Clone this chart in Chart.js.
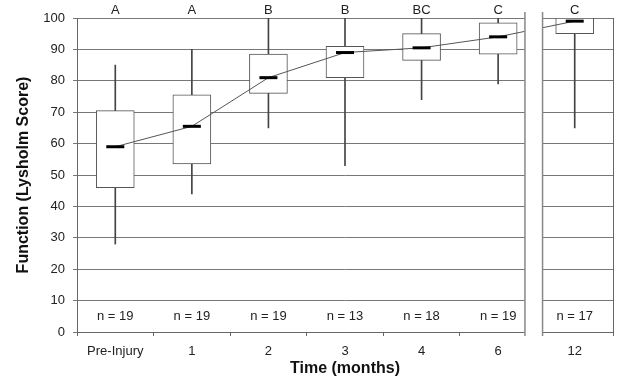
<!DOCTYPE html>
<html>
<head>
<meta charset="utf-8">
<script src="https://cdn.jsdelivr.net/npm/chart.js@4"></script>
<style>
  html, body { margin: 0; padding: 0; background: #fff; }
  #wrap { width: 625px; height: 386px; }
</style>
</head>
<body>
<div id="wrap"><canvas id="myChart" width="625" height="386"></canvas></div>
<script>
// datos
const categories = ['Pre-Injury', '1', '2', '3', '4', '6', '12'];
const whiskerMin = [28, 44, 65, 53, 74, 79, 65];
const whiskerMax = [85, 90, 100, 100, 100, 100, 100];
const boxQ1 = [46, 53.5, 76, 81, 86.5, 88.5, 95];
const boxQ3 = [70.5, 75.5, 88.5, 91, 95, 98.5, 100];
const medians = [59, 65.5, 81, 89, 90.5, 94, 99];
const groupLetters = ['A', 'A', 'B', 'B', 'BC', 'C', 'C'];
const sampleSizes = ['n = 19', 'n = 19', 'n = 19', 'n = 13', 'n = 18', 'n = 19', 'n = 17'];
const yTicks = [0, 10, 20, 30, 40, 50, 60, 70, 80, 90, 100];

const FONT = 'Liberation Sans, Arial, sans-serif';

// textos extra y el corte del eje
const extrasPlugin = {
    id: 'extras',
    afterDraw(chart) {
        const ctx = chart.ctx;
        const x = chart.scales.x;
        const y = chart.scales.y;
        const area = chart.chartArea;
        const catW = x.getPixelForValue(1) - x.getPixelForValue(0);

        ctx.save();
        // borde derecho
        ctx.strokeStyle = '#666';
        ctx.lineWidth = 1;
        ctx.beginPath();
        ctx.moveTo(area.right + 0.5, area.top);
        ctx.lineTo(area.right + 0.5, area.bottom);
        ctx.stroke();

        // letras de grupo y tamanos de muestra
        ctx.fillStyle = '#222';
        ctx.font = '13px ' + FONT;
        ctx.textAlign = 'center';
        ctx.textBaseline = 'middle';
        groupLetters.forEach((t, i) => {
            ctx.fillText(t, x.getPixelForValue(i), area.top - 8);
        });
        sampleSizes.forEach((t, i) => {
            ctx.fillText(t, x.getPixelForValue(i), y.getPixelForValue(5));
        });

        // corte entre 6 y 12 meses
        const bx1 = x.getPixelForValue(5) + 0.35 * catW;
        const bx2 = x.getPixelForValue(6) - 0.42 * catW;
        ctx.fillStyle = '#fff';
        ctx.fillRect(bx1, area.top - 6, bx2 - bx1, area.bottom - area.top + 12);
        ctx.strokeStyle = '#888';
        ctx.lineWidth = 1.5;
        ctx.beginPath();
        ctx.moveTo(bx1, area.top - 6);
        ctx.lineTo(bx1, area.bottom + 4);
        ctx.moveTo(bx2, area.top - 6);
        ctx.lineTo(bx2, area.bottom + 4);
        ctx.stroke();
        ctx.restore();
    }
};

const ctx = document.getElementById('myChart').getContext('2d');
new Chart(ctx, {
    type: 'bar',
    data: {
        labels: categories,
        datasets: [
            {
                type: 'line',
                data: medians,
                showLine: false,
                pointStyle: 'line',
                pointRadius: 9,
                pointBorderWidth: 3,
                pointBorderColor: '#000',
                order: 0
            },
            {
                type: 'line',
                data: medians,
                borderColor: '#555',
                borderWidth: 1,
                pointRadius: 0,
                tension: 0,
                order: 1
            },
            {
                data: boxQ1.map((v, i) => [v, boxQ3[i]]),
                backgroundColor: '#fff',
                borderColor: '#555',
                borderWidth: 1,
                borderSkipped: false,
                barThickness: 38,
                grouped: false,
                order: 2
            },
            {
                data: whiskerMin.map((v, i) => [v, whiskerMax[i]]),
                backgroundColor: '#444',
                borderWidth: 0,
                barThickness: 1,
                grouped: false,
                order: 3
            }
        ]
    },
    options: {
        responsive: false,
        animation: false,
        layout: { padding: { left: 0, right: 7, top: 18, bottom: 0 } },
        plugins: {
            legend: { display: false },
            tooltip: { enabled: false }
        },
        scales: {
            x: {
                offset: true,
                grid: { drawOnChartArea: false, offset: true, tickLength: 4, color: '#666' },
                border: { color: '#666' },
                ticks: { color: '#222', font: { family: FONT, size: 13 }, padding: 8 },
                title: {
                    display: true,
                    text: 'Time (months)',
                    color: '#111',
                    font: { family: FONT, size: 16, weight: 'bold' },
                    padding: { top: 0, bottom: 8 }
                },
                afterFit(scale) { scale.height = 54; }
            },
            y: {
                min: 0,
                max: 100,
                afterBuildTicks(scale) { scale.ticks = yTicks.map(v => ({ value: v })); },
                grid: { color: '#777', tickLength: 4 },
                border: { color: '#666' },
                ticks: { color: '#222', font: { family: FONT, size: 13 }, padding: 8 },
                title: {
                    display: true,
                    text: 'Function (Lysholm Score)',
                    color: '#111',
                    font: { family: FONT, size: 16, weight: 'bold' },
                    padding: { top: 14, bottom: 0 }
                },
                afterFit(scale) { scale.width = 77; }
            }
        }
    },
    plugins: [extrasPlugin]
});
</script>
</body>
</html>
